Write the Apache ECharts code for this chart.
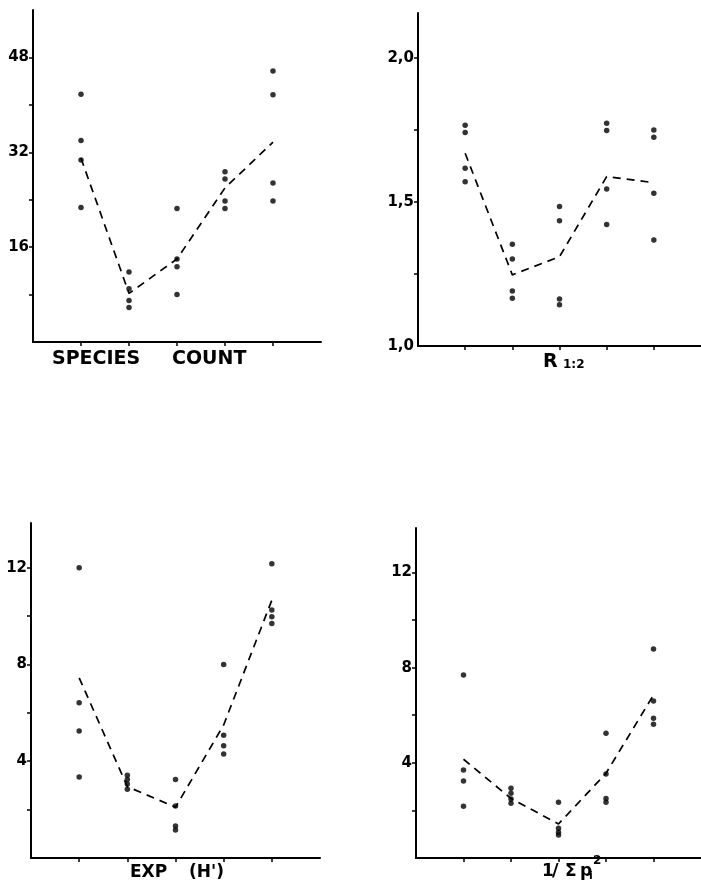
<!DOCTYPE html>
<html>
<head>
<meta charset="utf-8">
<script src="https://cdn.jsdelivr.net/npm/echarts@6/dist/echarts.min.js"></script>
<style>
  html, body { margin: 0; padding: 0; background: #fff; }
  #chart { width: 701px; height: 885px; }
</style>
</head>
<body>
<div id="chart"></div>
<script>
// five sample groups, four replicate values each, plus the group mean (dashed line)
const groups = [1, 2, 3, 4, 5];

const speciesCount = [[41.8, 34, 30.7, 22.7], [11.8, 9, 7, 5.8], [22.5, 14, 12.7, 8], [28.7, 27.5, 23.8, 22.5], [45.7, 41.7, 26.8, 23.8]];
const speciesMean = [31, 8.2, 14, 26, 33.7];

const r12 = [[1.766, 1.741, 1.617, 1.57], [1.353, 1.302, 1.191, 1.166], [1.484, 1.435, 1.163, 1.143], [1.773, 1.748, 1.545, 1.422], [1.75, 1.725, 1.53, 1.368]];
const r12Mean = [1.669, 1.247, 1.31, 1.588, 1.567];

const expH = [[12.0, 6.42, 5.25, 3.35], [3.42, 3.25, 3.06, 2.84], [3.25, 2.15, 1.32, 1.16], [8.0, 5.08, 4.64, 4.3], [12.17, 10.25, 9.97, 9.7]];
const expHMean = [7.45, 2.95, 2.1, 5.5, 10.66];

const simpson = [[7.69, 3.7, 3.24, 2.18], [2.93, 2.72, 2.48, 2.3], [2.34, 1.25, 1.08, 0.97], [5.24, 3.53, 2.5, 2.34], [8.78, 6.6, 5.87, 5.62]];
const simpsonMean = [4.15, 2.5, 1.43, 3.56, 6.85];

// y tick marks and labelled ticks per panel
const yTicks = [[8, 16, 24, 32, 40, 48], [1.25, 1.5, 1.75, 2.0], [2, 4, 6, 8, 10, 12], [2, 4, 6, 8, 10, 12]];
const yLabels = [[16, 32, 48], [1.0, 1.5, 2.0], [4, 8, 12], [4, 8, 12]];

const font = '"DejaVu Sans", sans-serif';

const panels = [
  { vals: speciesCount, mean: speciesMean, grid: { left: 33, top: 10, width: 288, height: 332 }, min: 0, max: 56, comma: false },
  { vals: r12, mean: r12Mean, grid: { left: 418, top: 13, width: 285, height: 333 }, min: 1, max: 2.156, comma: true },
  { vals: expH, mean: expHMean, grid: { left: 31, top: 523, width: 289, height: 335 }, min: 0, max: 13.85, comma: false },
  { vals: simpson, mean: simpsonMean, grid: { left: 416, top: 528, width: 288, height: 330 }, min: 0, max: 13.87, comma: false }
];

const grid = [], xAxis = [], yAxis = [], series = [];

panels.forEach((p, i) => {
  grid.push(p.grid);
  xAxis.push({
    type: 'value', gridIndex: i, min: 0, max: 6,
    splitLine: { show: false },
    axisLine: { lineStyle: { color: '#000', width: 2 } },
    axisTick: { customValues: groups, length: 4, lineStyle: { color: '#000', width: 1.5 } },
    axisLabel: { show: false }
  });
  yAxis.push({
    type: 'value', gridIndex: i, min: p.min, max: p.max,
    splitLine: { show: false },
    axisLine: { lineStyle: { color: '#000', width: 2 } },
    axisTick: { customValues: yTicks[i], length: 4, lineStyle: { color: '#000', width: 1.5 } },
    axisLabel: {
      customValues: yLabels[i], margin: 4,
      color: '#000', fontFamily: font, fontWeight: 'bold', fontSize: 15,
      formatter: v => p.comma ? v.toFixed(1).replace('.', ',') : String(v)
    }
  });
  const pts = [];
  p.vals.forEach((g, k) => g.forEach(v => pts.push([groups[k], v])));
  series.push({
    type: 'scatter', xAxisIndex: i, yAxisIndex: i,
    symbolSize: 5.5, itemStyle: { color: '#000' },
    data: pts, silent: true
  });
  series.push({
    type: 'line', xAxisIndex: i, yAxisIndex: i,
    symbol: 'none',
    lineStyle: { color: '#000', width: 1.7, type: [8, 6] },
    data: p.mean.map((v, k) => [groups[k], v]), silent: true
  });
});

const t = (text, left, top, size) => ({
  type: 'text', left: left, top: top,
  style: { text: text, fill: '#000', font: 'bold ' + size + 'px ' + font }
});

const chart = echarts.init(document.getElementById('chart'));
chart.setOption({
  backgroundColor: '#fff',
  animation: false,
  grid: grid,
  xAxis: xAxis,
  yAxis: yAxis,
  series: series,
  graphic: [
    t('SPECIES', 52, 350, 19),
    t('COUNT', 172, 350, 19),
    t('R', 543, 353, 19),
    t('1:2', 563, 359, 12),
    t('EXP', 130, 864, 17),
    t('(H\')', 189, 864, 17),
    t('1', 542, 863, 17),
    t('/', 552, 862, 18),
    t('\u03A3', 565, 863, 17),
    t('p', 580, 863, 17),
    t('i', 589, 871, 11),
    t('2', 593, 855, 12)
  ]
});
</script>
</body>
</html>
